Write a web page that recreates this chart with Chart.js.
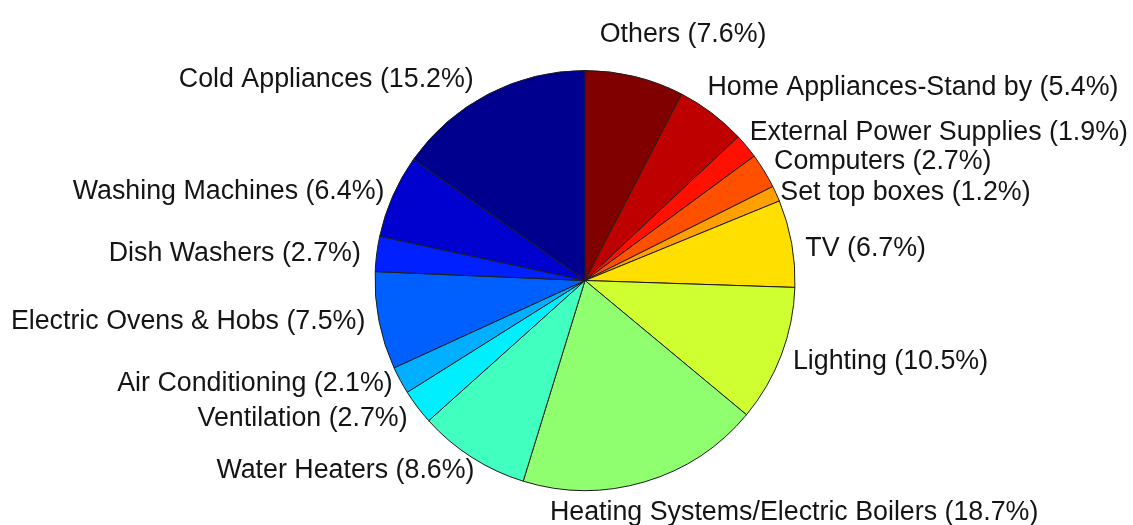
<!DOCTYPE html>
<html>
<head>
<meta charset="utf-8">
<title>Household electricity consumption by end use</title>
<script src="https://cdn.jsdelivr.net/npm/chart.js@4.4.1/dist/chart.umd.min.js"></script>
<style>
  html, body { margin: 0; padding: 0; background: #fff; }
  #wrap { width: 1133px; height: 525px; position: relative; }
</style>
</head>
<body>
<div id="wrap"><canvas id="pie"></canvas></div>
<script>
"use strict";

// Slices listed clockwise from 12 o'clock (MATLAB drew them counter-clockwise from Cold Appliances).
const CATEGORIES = [
  "Others", "Home Appliances-Stand by", "External Power Supplies", "Computers", "Set top boxes",
  "TV", "Lighting", "Heating Systems/Electric Boilers", "Water Heaters", "Ventilation",
  "Air Conditioning", "Electric Ovens & Hobs", "Dish Washers", "Washing Machines", "Cold Appliances",
];
const SHARES = [7.6, 5.4, 1.9, 2.7, 1.2, 6.7, 10.5, 18.7, 8.6, 2.7, 2.1, 7.5, 2.7, 6.4, 15.2];

// jet(64) rows picked by MATLAB's scaled CData mapping for 15 slices.
const JET_COLORS = [
  "#800000", "#bf0000", "#ff1000", "#ff5000", "#ff9f00",
  "#ffdf00", "#cfff30", "#8fff70", "#40ffbf", "#00efff",
  "#00afff", "#0060ff", "#0020ff", "#0000cf", "#00008f",
];

// Hand placement of the labels, pixels relative to the default 1.1·R anchor.
const LABEL_NUDGE = [
  [-40, -14], [-17, -1], [-13, 7], [-8, 9], [-15, 15],
  [-7, 16], [-8, 6], [-101, 18], [14, 3], [7, 6],
  [11, 1], [7, 4], [5, 10], [11, 11], [-5, 12],
];

const labelText = (i) => `${CATEGORIES[i]} (${SHARES[i].toFixed(1)}%)`;

// Draws the outside labels from each arc's own geometry.
const pieLabels = {
  id: "pieLabels",
  afterDatasetsDraw(chart) {
    const ctx = chart.ctx;
    const arcs = chart.getDatasetMeta(0).data;
    ctx.save();
    ctx.font = "26.8px 'Liberation Sans', Arial, sans-serif";
    ctx.fillStyle = "#141414";
    ctx.textBaseline = "alphabetic";
    arcs.forEach((arc, i) => {
      const { x, y, startAngle, endAngle, outerRadius } = arc.getProps(
        ["x", "y", "startAngle", "endAngle", "outerRadius"], true);
      const mid = (startAngle + endAngle) / 2;
      const r = outerRadius * 1.1;
      const ax = x + Math.cos(mid) * r;
      const ay = y + Math.sin(mid) * r;
      ctx.textAlign = Math.cos(mid) >= 0 ? "left" : "right";
      ctx.fillText(labelText(i), ax + LABEL_NUDGE[i][0], ay + LABEL_NUDGE[i][1]);
    });
    ctx.restore();
  },
};

new Chart(document.getElementById("pie"), {
  type: "pie",
  data: {
    labels: CATEGORIES,
    datasets: [{
      data: SHARES,
      backgroundColor: JET_COLORS,
      borderColor: "#1c1c1c",
      borderWidth: 1,
      hoverOffset: 0,
    }],
  },
  options: {
    responsive: true,
    maintainAspectRatio: false,
    animation: false,
    events: [],
    // Chart area sized so the pie sits at (585, 281) with R ≈ 210.
    layout: { padding: { left: 337, right: 300, top: 70, bottom: 34 } },
    plugins: {
      legend: { display: false },
      tooltip: { enabled: false },
    },
  },
  plugins: [pieLabels],
});
</script>
</body>
</html>
